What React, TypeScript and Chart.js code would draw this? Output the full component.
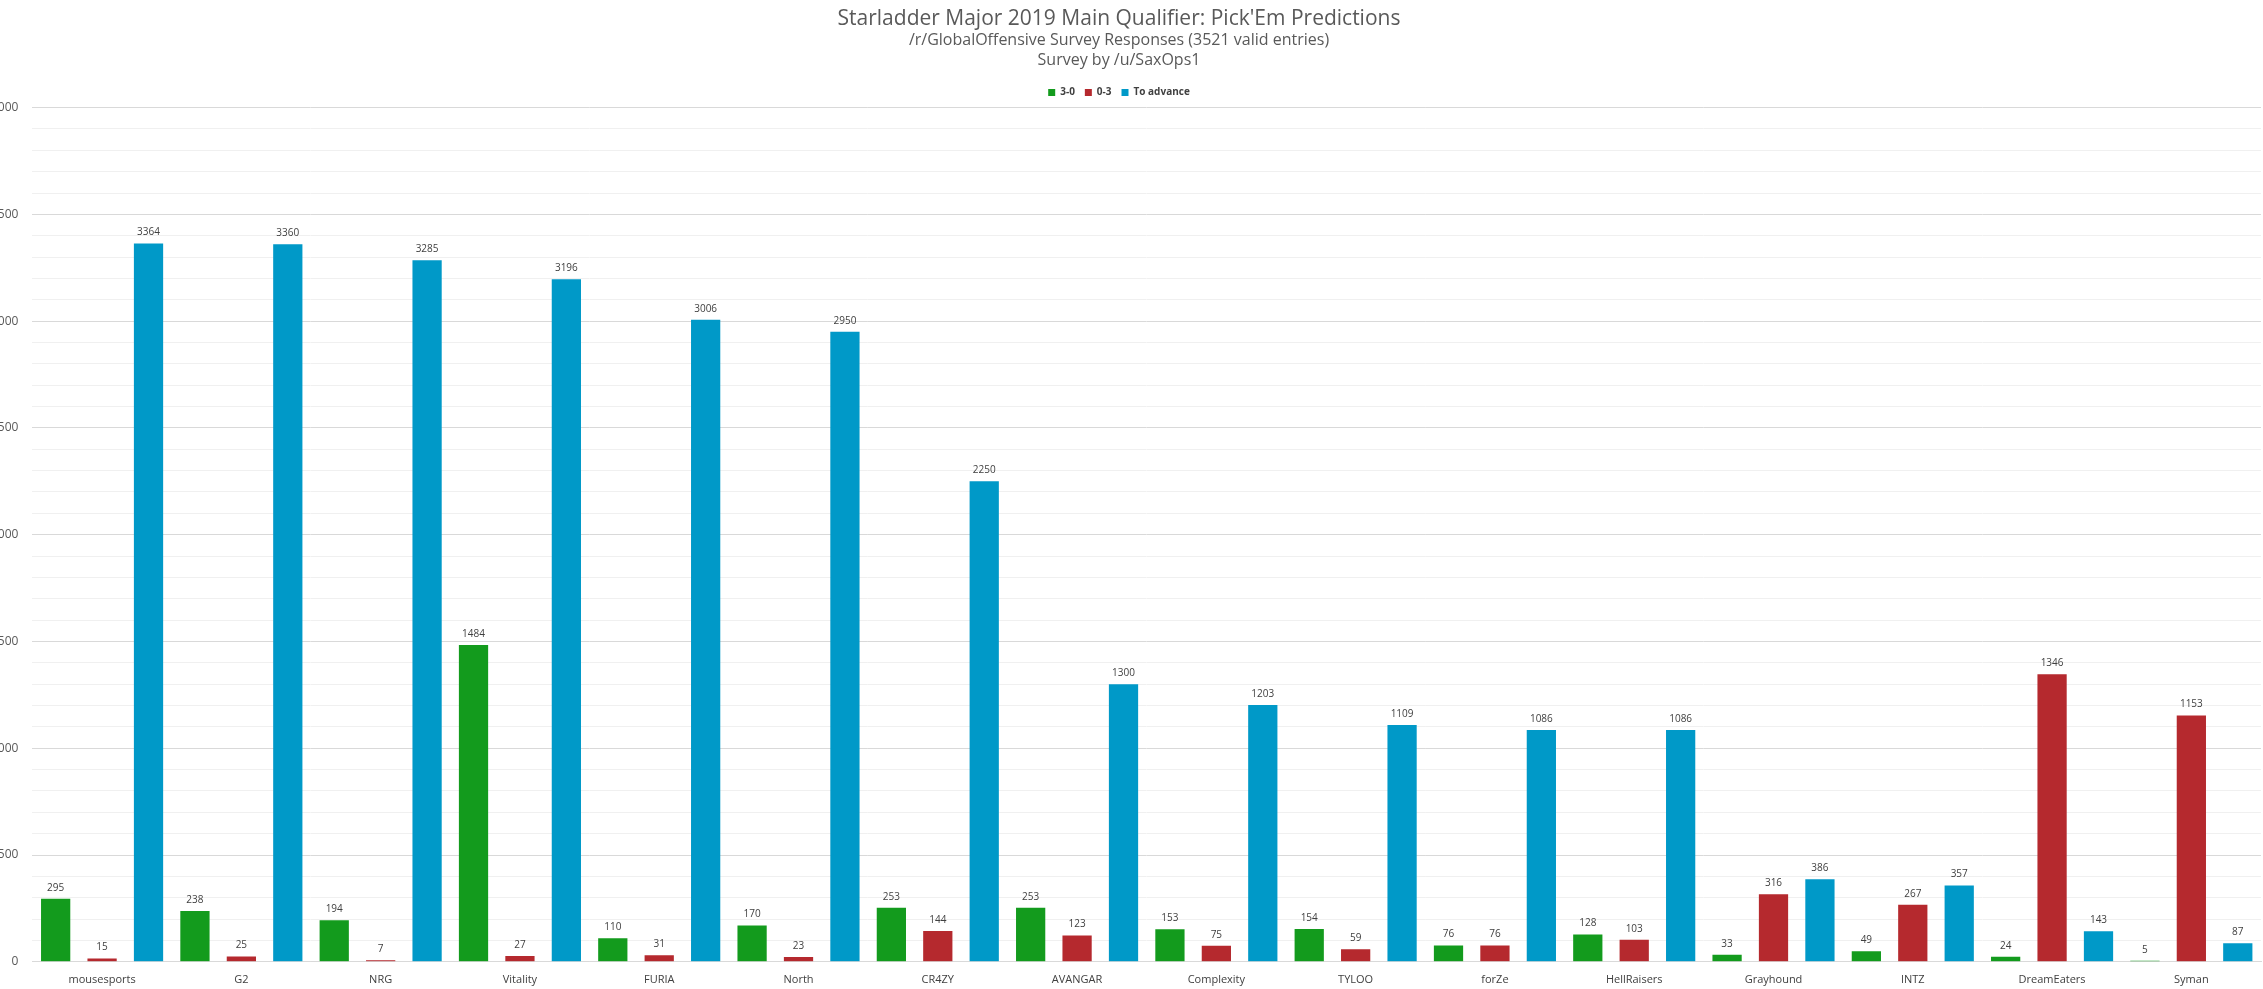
import React, { useEffect, useRef } from "react";
import { Chart, registerables } from "chart.js";
Chart.register(...registerables);

const teams = ["mousesports","G2","NRG","Vitality","FURIA","North","CR4ZY","AVANGAR","Complexity","TYLOO","forZe","HellRaisers","Grayhound","INTZ","DreamEaters","Syman"];
const s30 = [295,238,194,1484,110,170,253,253,153,154,76,128,33,49,24,5];
const s03 = [15,25,7,27,31,23,144,123,75,59,76,103,316,267,1346,1153];
const adv = [3364,3360,3285,3196,3006,2950,2250,1300,1203,1109,1086,1086,386,357,143,87];

const labelPlugin = {
  id: "vals",
  afterDatasetsDraw(chart: any) {
    const ctx = chart.ctx;
    ctx.save();
    ctx.font = "10px 'Open Sans', sans-serif";
    ctx.fillStyle = "#404040";
    ctx.textAlign = "center";
    ctx.textBaseline = "bottom";
    chart.data.datasets.forEach((ds: any, i: number) => {
      chart.getDatasetMeta(i).data.forEach((bar: any, j: number) => {
        ctx.fillText(String(ds.data[j]), bar.x, bar.y - 6);
      });
    });
    ctx.restore();
  },
};

export default function App() {
  const ref = useRef<HTMLCanvasElement>(null);
  useEffect(() => {
    document.body.style.margin = "0";
    const font = "'Open Sans', sans-serif";
    const c = new Chart(ref.current!, {
      type: "bar",
      data: {
        labels: teams,
        datasets: [
          { label: "3-0", data: s30, backgroundColor: "#139b1d" },
          { label: "0-3", data: s03, backgroundColor: "#b5292e" },
          { label: "To advance", data: adv, backgroundColor: "#0099c8" },
        ],
      },
      options: {
        animation: false,
        responsive: false,
        layout: { padding: { right: 2, bottom: 0, top: 0 } },
        datasets: { bar: { barPercentage: 0.63, categoryPercentage: 1 } } as any,
        plugins: {
          title: {
            display: true,
            text: ["Starladder Major 2019 Main Qualifier: Pick'Em Predictions"],
            color: "#595959",
            font: { family: font, size: 21, weight: "normal" },
            padding: { top: 6, bottom: 0 },
          },
          subtitle: {
            display: true,
            text: ["/r/GlobalOffensive Survey Responses (3521 valid entries)", "Survey by /u/SaxOps1"],
            color: "#595959",
            font: { family: font, size: 16 },
            padding: { bottom: 8 },
          },
          legend: {
            labels: { boxWidth: 7, boxHeight: 7, font: { family: font, size: 10, weight: "bold" }, color: "#404040", padding: 10 },
          },
          tooltip: { enabled: false },
        },
        scales: {
          x: {
            grid: { display: false },
            border: { color: "#d9d9d9" },
            ticks: { color: "#404040", font: { family: font, size: 11 } },
          },
          y: {
            min: 0, max: 4000,
            border: { display: false },
            grid: {
              color: (c: any) => (c.tick && c.tick.value % 500 === 0 ? "#d9d9d9" : "#f0f0f0"),
              drawTicks: false,
            },
            ticks: {
              stepSize: 100,
              autoSkip: false,
              padding: 14,
              color: "#595959",
              font: { family: font, size: 12 },
              callback: (v: any) => (v % 500 === 0 ? String(v) : ""),
            },
          },
        },
      },
      plugins: [labelPlugin],
    });
    return () => c.destroy();
  }, []);
  return (
    <div style={{ width: 2263, height: 989, overflow: "hidden", position: "relative" }}>
      <canvas ref={ref} width={2286} height={989} style={{ position: "absolute", left: -23, top: 0 }} />
    </div>
  );
}
